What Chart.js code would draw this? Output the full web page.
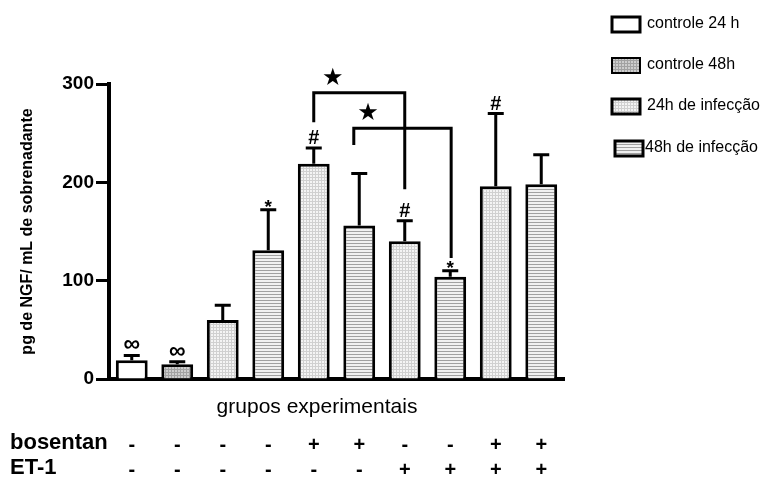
<!DOCTYPE html>
<html lang="pt">
<head>
  <meta charset="UTF-8">
  <title>NGF por grupo experimental</title>
  <script src="https://cdn.jsdelivr.net/npm/chart.js"></script>
  <style>
    body { margin: 0; background: #fff; }
  </style>
</head>
<body>
  <canvas id="grafico" width="766" height="481"></canvas>
  <script>
    // valores
    const bosentan = ['-', '-', '-', '-', '+', '+', '-', '-', '+', '+'];
    const et1 = ['-', '-', '-', '-', '-', '-', '+', '+', '+', '+'];
    const media = [19, 15, 60, 131, 219, 156, 140, 104, 196, 198];
    const erro = [5, 2.5, 15, 41, 16, 53, 21, 6, 74, 30];
    const grupo = [0, 1, 2, 3, 2, 3, 2, 3, 2, 3];
    const marcas = ['∞', '∞', '', '*', '#', '', '#', '*', '#', ''];
    const legendaTextos = ['controle 24 h', 'controle 48h', '24h de infecção', '48h de infecção'];
    const yTicks = [0, 100, 200, 300];

    // colchetes de comparação: [indice esq, y inicio esq, y topo, indice dir, y fim dir]
    const colchetes = [
      [4, 261, 291, 6, 193],
      [4.88, 238, 255, 7.02, 123]
    ];
    // posição das estrelas (indice, valor)
    const estrelas = [[4.42, 305], [5.19, 270]];

    const fonte = "'Liberation Sans', Arial, sans-serif";
    const canvas = document.getElementById('grafico');
    const ctx = canvas.getContext('2d');

    function padrao(tipo) {
      const c = document.createElement('canvas');
      const g = c.getContext('2d');
      if (tipo === 0) {
        return '#ffffff';
      }
      if (tipo === 3) {
        c.width = 4; c.height = 3;
        g.fillStyle = '#f0f0f0';
        g.fillRect(0, 0, 4, 3);
        g.fillStyle = '#a0a0a0';
        g.fillRect(0, 0, 4, 1);
        return ctx.createPattern(c, 'repeat');
      }
      // grade fina de 3px
      c.width = 3; c.height = 3;
      const linha = tipo === 1 ? '#a2a2a2' : '#d0d0d0';
      const miolo = tipo === 1 ? '#cdcdcd' : '#f4f4f4';
      g.fillStyle = linha;
      g.fillRect(0, 0, 3, 3);
      g.fillStyle = miolo;
      g.fillRect(1, 1, 2, 2);
      return ctx.createPattern(c, 'repeat');
    }

    const preenchimentos = [0, 1, 2, 3].map(padrao);

    const anotacoes = {
      id: 'anotacoes',
      afterDatasetsDraw(chart) {
        const c = chart.ctx;
        const x = chart.scales.x;
        const y = chart.scales.y;
        const px = i => x.getPixelForValue(0) + i * (x.getPixelForValue(1) - x.getPixelForValue(0));
        c.save();
        c.strokeStyle = '#000';
        c.fillStyle = '#000';
        c.lineWidth = 3;
        c.lineCap = 'butt';

        // barras de erro
        media.forEach((v, i) => {
          const cx = x.getPixelForValue(i);
          const y0 = y.getPixelForValue(v);
          const y1 = y.getPixelForValue(v + erro[i]);
          c.beginPath();
          c.moveTo(cx, y0);
          c.lineTo(cx, y1);
          c.moveTo(cx - 8, y1);
          c.lineTo(cx + 8, y1);
          c.stroke();

          if (marcas[i]) {
            const m = marcas[i];
            c.textAlign = 'center';
            c.textBaseline = 'alphabetic';
            if (m === '∞') {
              c.font = 'bold 23px ' + fonte;
              c.fillText(m, cx, y1 - 4);
            } else if (m === '*') {
              c.font = 'bold 19px ' + fonte;
              c.fillText(m, cx, y1 + 3);
            } else {
              c.font = 'bold 20px ' + fonte;
              c.fillText(m, cx, y1 - 4);
            }
          }
        });

        // colchetes
        colchetes.forEach(([i0, a, topo, i1, b]) => {
          c.beginPath();
          c.moveTo(px(i0), y.getPixelForValue(a));
          c.lineTo(px(i0), y.getPixelForValue(topo));
          c.lineTo(px(i1), y.getPixelForValue(topo));
          c.lineTo(px(i1), y.getPixelForValue(b));
          c.stroke();
        });
        c.font = "24px 'DejaVu Sans', sans-serif";
        c.textAlign = 'center';
        c.textBaseline = 'middle';
        estrelas.forEach(([i, v]) => {
          c.fillText('★', px(i), y.getPixelForValue(v));
        });

        // título do eixo x e rótulos das linhas
        c.font = '21px ' + fonte;
        c.textAlign = 'center';
        c.textBaseline = 'middle';
        c.fillText('grupos experimentais', 317, 407);
        c.font = 'bold 22px ' + fonte;
        c.textAlign = 'left';
        c.fillText('bosentan', 10, 443);
        c.fillText('ET-1', 10, 468);

        // legenda
        const linhas = [24, 65, 106, 148];
        legendaTextos.forEach((t, k) => {
          const bx = k === 3 ? 615 : 612;
          c.fillStyle = preenchimentos[k];
          c.fillRect(bx, linhas[k] - 7, 28, 15);
          c.lineWidth = k === 1 ? 2 : 3;
          c.strokeRect(bx, linhas[k] - 7, 28, 15);
          c.fillStyle = '#000';
          c.font = '16px ' + fonte;
          c.textAlign = 'left';
          c.textBaseline = 'middle';
          c.fillText(t, k === 3 ? 645 : 647, linhas[k]);
        });
        c.restore();
      }
    };

    new Chart(canvas, {
      type: 'bar',
      data: {
        labels: bosentan.map((b, i) => [b, et1[i]]),
        datasets: [{
          data: media,
          backgroundColor: grupo.map(g => preenchimentos[g]),
          borderColor: '#000',
          borderWidth: 3,
          borderSkipped: 'bottom',
          barPercentage: 0.7,
          categoryPercentage: 1
        }]
      },
      options: {
        responsive: false,
        animation: false,
        layout: { padding: { top: 84, right: 202, bottom: 0, left: 0 } },
        plugins: {
          legend: { display: false },
          tooltip: { enabled: false }
        },
        scales: {
          x: {
            z: 1,
            offset: true,
            afterFit: s => { s.height = 102; },
            grid: { display: false, drawTicks: false },
            border: { display: true, color: '#000', width: 4 },
            ticks: {
              color: '#000',
              padding: 54,
              font: { family: fonte, size: 20, weight: 'bold', lineHeight: 1.25 },
              maxRotation: 0
            }
          },
          y: {
            z: 1,
            min: 0,
            max: 300,
            afterFit: s => { s.width = 109; },
            afterBuildTicks: s => { s.ticks = yTicks.map(v => ({ value: v })); },
            grid: { drawOnChartArea: false, drawTicks: true, tickLength: 13, tickWidth: 3, tickColor: '#000' },
            border: { display: true, color: '#000', width: 4 },
            ticks: {
              color: '#000',
              padding: 2,
              font: { family: fonte, size: 19, weight: 'bold' }
            },
            title: {
              display: true,
              text: 'pg de NGF/ mL de sobrenadante',
              color: '#000',
              padding: { top: 18 },
              font: { family: fonte, size: 16, weight: 'bold' }
            }
          }
        }
      },
      plugins: [anotacoes]
    });
  </script>
</body>
</html>
